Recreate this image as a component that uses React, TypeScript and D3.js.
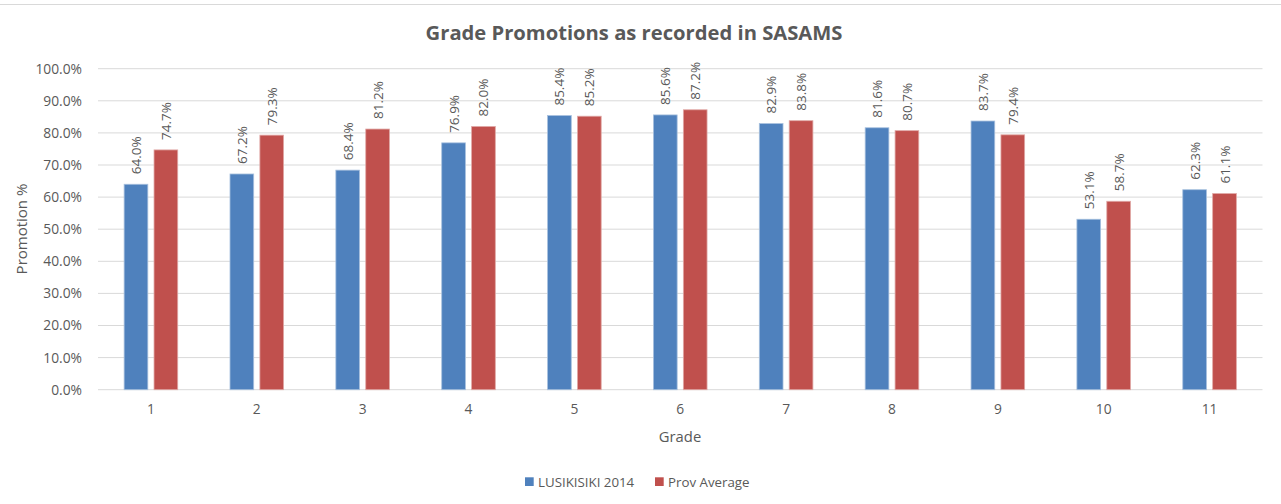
import React, { useRef, useEffect } from 'react';
import * as d3 from 'd3';

const grades = ['1', '2', '3', '4', '5', '6', '7', '8', '9', '10', '11'];
const lusikisiki = [64.0, 67.2, 68.4, 76.9, 85.4, 85.6, 82.9, 81.6, 83.7, 53.1, 62.3];
const provAverage = [74.7, 79.3, 81.2, 82.0, 85.2, 87.2, 83.8, 80.7, 79.4, 58.7, 61.1];
const seriesNames = ['LUSIKISIKI 2014', 'Prov Average'];
const seriesColors = ['#4F81BD', '#C0504D'];
const yTicks = [0, 10, 20, 30, 40, 50, 60, 70, 80, 90, 100];

const W = 1281;
const H = 504;
const FONT = "'Open Sans', 'Liberation Sans', sans-serif";
const TEXT = '#595959';

export default function App() {
    const svgRef = useRef<SVGSVGElement>(null);

    useEffect(() => {
        if (!svgRef.current) return;
        const svg = d3.select(svgRef.current);
        svg.selectAll('*').remove();

        const margin = { top: 68.7, right: 18.5, bottom: 114.3, left: 98 };
        const innerW = W - margin.left - margin.right;
        const innerH = H - margin.top - margin.bottom;

        // outer frame line at top
        svg.append('line')
            .attr('x1', 0).attr('x2', W)
            .attr('y1', 4.5).attr('y2', 4.5)
            .attr('stroke', '#D9D9D9');

        svg.append('text')
            .attr('x', 634)
            .attr('y', 40)
            .attr('text-anchor', 'middle')
            .attr('font-family', FONT)
            .attr('font-size', '20.2px')
            .attr('font-weight', 'bold')
            .attr('fill', TEXT)
            .text('Grade Promotions as recorded in SASAMS');

        const g = svg.append('g').attr('transform', `translate(${margin.left},${margin.top})`);

        const x0 = d3.scaleBand().domain(grades).range([0, innerW]);
        const y = d3.scaleLinear().domain([0, 100]).range([innerH, 0]);

        // gridlines
        g.selectAll('.grid')
            .data(yTicks)
            .enter()
            .append('line')
            .attr('x1', 0).attr('x2', innerW)
            .attr('y1', d => y(d)).attr('y2', d => y(d))
            .attr('stroke', '#D9D9D9')
            .attr('stroke-width', 1);

        const yAxis = g.append('g')
            .call(d3.axisLeft(y).tickValues(yTicks).tickFormat(d => `${(+d).toFixed(1)}%`).tickSize(0).tickPadding(16));
        yAxis.select('.domain').remove();
        yAxis.selectAll('text')
            .attr('font-family', FONT)
            .attr('font-size', '13.8px')
            .attr('fill', TEXT);

        const xAxis = g.append('g')
            .attr('transform', `translate(0,${innerH})`)
            .call(d3.axisBottom(x0).tickSize(0).tickPadding(15));
        xAxis.select('.domain').remove();
        xAxis.selectAll('text')
            .attr('font-family', FONT)
            .attr('font-size', '13.8px')
            .attr('fill', TEXT);

        const barW = 23.7;
        const gap = 6.2;
        const series = [lusikisiki, provAverage];

        series.forEach((vals, si) => {
            const xs = (gr: string) => (x0(gr) || 0) + x0.bandwidth() / 2 + (si === 0 ? -(gap / 2 + barW) : gap / 2);
            g.selectAll(`.bar${si}`)
                .data(vals)
                .enter()
                .append('rect')
                .attr('x', (d, i) => xs(grades[i]))
                .attr('y', d => y(d))
                .attr('width', barW)
                .attr('height', d => innerH - y(d))
                .attr('fill', seriesColors[si])
                .attr('stroke', si === 0 ? '#A7C0DE' : '#E0A8A6')
                .attr('stroke-width', 0.8);

            g.selectAll(`.lbl${si}`)
                .data(vals)
                .enter()
                .append('text')
                .attr('transform', (d, i) => `translate(${xs(grades[i]) + barW / 2 + 5},${y(d) - 10}) rotate(-90)`)
                .attr('font-family', FONT)
                .attr('font-size', '13.5px')
                .attr('fill', TEXT)
                .text(d => `${d.toFixed(1)}%`);
        });

        // axis titles
        svg.append('text')
            .attr('transform', `translate(27,229) rotate(-90)`)
            .attr('text-anchor', 'middle')
            .attr('font-family', FONT)
            .attr('font-size', '15px')
            .attr('fill', TEXT)
            .text('Promotion %');

        svg.append('text')
            .attr('x', 680)
            .attr('y', 442)
            .attr('text-anchor', 'middle')
            .attr('font-family', FONT)
            .attr('font-size', '14.8px')
            .attr('fill', TEXT)
            .text('Grade');

        // legend
        const legendX = [525, 655];
        seriesNames.forEach((name, i) => {
            svg.append('rect')
                .attr('x', legendX[i])
                .attr('y', 477.3)
                .attr('width', 8.7)
                .attr('height', 8.7)
                .attr('fill', seriesColors[i]);
            svg.append('text')
                .attr('x', legendX[i] + 13)
                .attr('y', 486.5)
                .attr('font-family', FONT)
                .attr('font-size', '13.3px')
                .attr('fill', TEXT)
                .text(name);
        });
    }, []);

    return (
        <svg ref={svgRef} width={W} height={H} style={{ position: 'absolute', left: 0, top: 0, background: '#fff' }} />
    );
}
